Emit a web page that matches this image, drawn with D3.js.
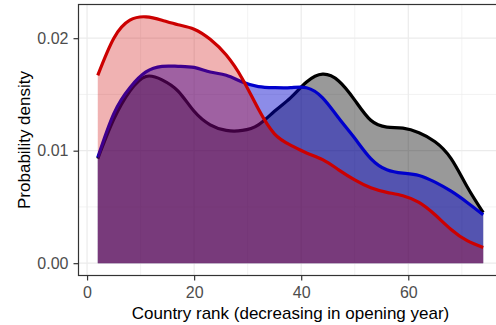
<!DOCTYPE html>
<html>
<head>
<meta charset="utf-8">
<script src="https://cdn.jsdelivr.net/npm/d3@7"></script>
<style>
  html, body { margin: 0; padding: 0; background: #fff; }
  svg { display: block; font-family: "Liberation Sans", Arial, sans-serif; }
</style>
</head>
<body>
<svg id="chart" width="496" height="325"></svg>
<script>
// Country rank grid shared by all density estimates
const ranks = [2, 5, 8, 11, 14, 17, 20, 23, 26, 29, 32, 35, 38, 41, 44, 47, 50, 53, 56, 59, 62, 65, 68, 71, 74];

// Density estimates for each group
const densityBlack = [0.0093, 0.0128, 0.0153, 0.0166, 0.0163, 0.0153, 0.0135, 0.0123, 0.0118, 0.0118, 0.0123, 0.0135, 0.0147,
                      0.0161, 0.0168, 0.0162, 0.0145, 0.0127, 0.0121, 0.0120, 0.0116, 0.0108, 0.0093, 0.0068, 0.0045];
const densityBlue  = [0.0094, 0.0133, 0.0156, 0.0170, 0.0175, 0.0175, 0.0174, 0.0170, 0.0167, 0.0161, 0.0157, 0.0156, 0.0156,
                      0.0156, 0.0147, 0.0129, 0.0111, 0.0093, 0.0083, 0.0080, 0.0078, 0.0072, 0.0064, 0.0054, 0.0043];
const densityRed   = [0.0167, 0.0200, 0.0216, 0.0219, 0.0216, 0.0212, 0.0208, 0.0199, 0.0185, 0.0164, 0.0137, 0.0115, 0.0105,
                      0.0098, 0.0092, 0.0083, 0.0074, 0.0067, 0.0063, 0.0060, 0.0054, 0.0043, 0.0030, 0.0020, 0.0014];

const xTicks = [0, 20, 40, 60];
const xMinor = [10, 30, 50, 70];
const yTicks = [0, 0.01, 0.02];
const yMinor = [0.005, 0.015];
const yTickLabels = ["0.00", "0.01", "0.02"];

const xTitle = "Country rank (decreasing in opening year)";
const yTitle = "Probability density";

const series = [
  { values: densityBlack, line: "#000000", fill: "#000000", alpha: 0.4 },
  { values: densityBlue,  line: "#0000CC", fill: "#0000CC", alpha: 0.45 },
  { values: densityRed,   line: "#CC0000", fill: "#CC0000", alpha: 0.3 }
];

const svg = d3.select("#chart");

// Panel geometry
const panel = { left: 78.5, top: 4.5, right: 502.5, bottom: 275.5 };

const xMin = d3.min(ranks), xMax = d3.max(ranks);
const xPad = (xMax - xMin) * 0.05;
const x = d3.scaleLinear()
  .domain([xMin - xPad, xMax + xPad])
  .range([panel.left, panel.right]);

const yTop = d3.max(series, s => d3.max(s.values));
const yPad = yTop * 0.05;
const y = d3.scaleLinear()
  .domain([-yPad, yTop + yPad])
  .range([panel.bottom, panel.top]);

// Panel background
svg.append("rect")
  .attr("x", panel.left).attr("y", panel.top)
  .attr("width", panel.right - panel.left).attr("height", panel.bottom - panel.top)
  .attr("fill", "#FFFFFF");

const grid = svg.append("g");
grid.selectAll(".vminor").data(xMinor).join("line")
  .attr("x1", d => x(d)).attr("x2", d => x(d))
  .attr("y1", panel.top).attr("y2", panel.bottom)
  .attr("stroke", "#EBEBEB").attr("stroke-width", 0.6);
grid.selectAll(".hminor").data(yMinor).join("line")
  .attr("y1", d => y(d)).attr("y2", d => y(d))
  .attr("x1", panel.left).attr("x2", panel.right)
  .attr("stroke", "#EBEBEB").attr("stroke-width", 0.6);
grid.selectAll(".vmajor").data(xTicks).join("line")
  .attr("x1", d => x(d)).attr("x2", d => x(d))
  .attr("y1", panel.top).attr("y2", panel.bottom)
  .attr("stroke", "#EBEBEB").attr("stroke-width", 1.2);
grid.selectAll(".hmajor").data(yTicks).join("line")
  .attr("y1", d => y(d)).attr("y2", d => y(d))
  .attr("x1", panel.left).attr("x2", panel.right)
  .attr("stroke", "#EBEBEB").attr("stroke-width", 1.2);

// Density areas and upper outlines, drawn group by group
const area = d3.area()
  .x((d, i) => x(ranks[i]))
  .y0(y(0))
  .y1(d => y(d))
  .curve(d3.curveNatural);
const line = d3.line()
  .x((d, i) => x(ranks[i]))
  .y(d => y(d))
  .curve(d3.curveNatural);

const marks = svg.append("g");
series.forEach(s => {
  marks.append("path")
    .attr("d", area(s.values))
    .attr("fill", s.fill)
    .attr("fill-opacity", s.alpha);
  marks.append("path")
    .attr("d", line(s.values))
    .attr("fill", "none")
    .attr("stroke", s.line)
    .attr("stroke-width", 3.2)
    .attr("stroke-linejoin", "round");
});

// Panel border
svg.append("rect")
  .attr("x", panel.left).attr("y", panel.top)
  .attr("width", panel.right - panel.left).attr("height", panel.bottom - panel.top)
  .attr("fill", "none").attr("stroke", "#333333").attr("stroke-width", 1.2);

// Axes
const xAxis = d3.axisBottom(x).tickValues(xTicks).tickSize(5).tickPadding(6).tickSizeOuter(0);
const yAxis = d3.axisLeft(y).tickValues(yTicks).tickFormat((d, i) => yTickLabels[i]).tickSize(5).tickPadding(5).tickSizeOuter(0);

const gx = svg.append("g").attr("transform", `translate(0,${panel.bottom})`).call(xAxis);
const gy = svg.append("g").attr("transform", `translate(${panel.left},0)`).call(yAxis);
[gx, gy].forEach(g => {
  g.select(".domain").remove();
  g.selectAll(".tick line").attr("stroke", "#333333").attr("stroke-width", 1.2);
  g.selectAll(".tick text").attr("fill", "#4D4D4D").style("font-size", "16px");
});

// Axis titles
svg.append("text")
  .attr("x", (panel.left + panel.right) / 2)
  .attr("y", 319)
  .attr("text-anchor", "middle")
  .style("font-size", "17px")
  .attr("fill", "#000000")
  .text(xTitle);

svg.append("text")
  .attr("transform", `translate(30,${(panel.top + panel.bottom) / 2}) rotate(-90)`)
  .attr("text-anchor", "middle")
  .style("font-size", "17px")
  .attr("fill", "#000000")
  .text(yTitle);
</script>
</body>
</html>
